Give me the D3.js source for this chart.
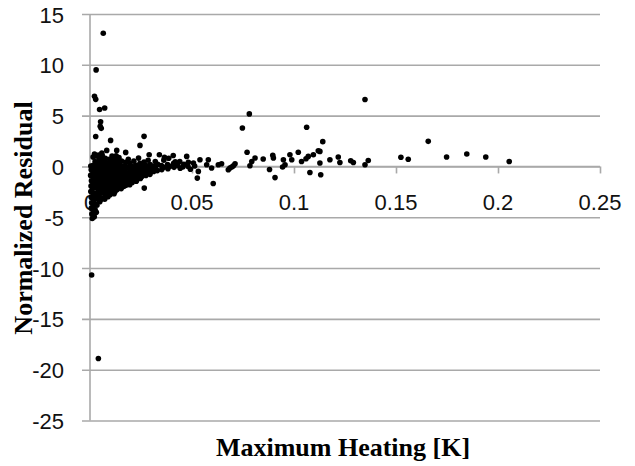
<!DOCTYPE html>
<html>
<head>
<meta charset="utf-8">
<script src="https://cdnjs.cloudflare.com/ajax/libs/d3/7.8.5/d3.min.js"></script>
<style>
  html, body { margin: 0; padding: 0; background: #fff; }
  svg { display: block; }
</style>
</head>
<body>
<svg id="chart" width="635" height="466"></svg>
<script>
// ---- data ----
const xTicks = [0, 0.05, 0.1, 0.15, 0.2, 0.25];
const yTicks = [15, 10, 5, 0, -5, -10, -15, -20, -25];
const xTitle = "Maximum Heating [K]";
const yTitle = "Normalized Residual";

// dense wedge of points near zero heating [heating, residual]
const clusterPoints = [
  [0.0004,0.05],[0.0006,-0.32],[0.0003,-0.88],[0.0007,-1.42],[0.0005,-1.93],[0.0004,-2.47],[0.0006,-3.02],[0.0008,-3.58],[0.0006,-4.12],[0.0009,-4.68],[0.0011,-5.12],
  [0.0015,0.92],[0.0016,0.12],[0.0014,-0.51],[0.0017,-1.08],[0.0015,-1.71],[0.0013,-2.18],[0.0016,-2.79],[0.0018,-3.31],[0.0015,-3.92],[0.0017,-4.48],[0.0021,-4.95],
  [0.0025,0.48],[0.0026,-0.18],[0.0024,-0.81],[0.0027,-1.33],[0.0025,-1.98],[0.0023,-2.61],[0.0026,-3.12],[0.0028,-3.69],[0.0025,-4.27],
  [0.0035,1.02],[0.0036,0.31],[0.0034,-0.42],[0.0037,-0.98],[0.0035,-1.58],[0.0033,-2.12],[0.0036,-2.71],[0.0038,-3.22],[0.0034,-3.81],[0.0031,-4.52],
  [0.0045,0.62],[0.0046,0.02],[0.0044,-0.61],[0.0047,-1.19],[0.0045,-1.82],[0.0043,-2.38],[0.0046,-2.98],[0.0048,-3.48],
  [0.0055,0.88],[0.0056,0.21],[0.0054,-0.33],[0.0057,-0.91],[0.0055,-1.52],[0.0053,-2.08],[0.0056,-2.62],[0.0052,-3.28],
  [0.0065,0.51],[0.0066,-0.12],[0.0064,-0.68],[0.0067,-1.22],[0.0065,-1.88],[0.0063,-2.48],[0.0066,-3.08],
  [0.0075,0.79],[0.0076,0.11],[0.0074,-0.52],[0.0077,-1.01],[0.0075,-1.62],[0.0073,-2.21],[0.0076,-2.88],[0.0072,-3.22],
  [0.0085,0.28],[0.0086,-0.29],[0.0084,-0.82],[0.0087,-1.38],[0.0085,-1.98],[0.0083,-2.58],[0.0088,-2.98],
  [0.0095,0.71],[0.0096,0.02],[0.0094,-0.58],[0.0097,-1.12],[0.0095,-1.72],[0.0093,-2.31],[0.0098,-2.79],
  [0.0105,0.42],[0.0106,-0.22],[0.0104,-0.88],[0.0107,-1.41],[0.0105,-2.02],[0.0103,-2.58],
  [0.0115,0.78],[0.0116,0.08],[0.0114,-0.49],[0.0117,-1.08],[0.0115,-1.69],[0.0113,-2.28],[0.0118,-2.68],
  [0.0125,0.31],[0.0126,-0.31],[0.0124,-0.79],[0.0127,-1.38],[0.0125,-1.91],[0.0123,-2.47],
  [0.0135,0.58],[0.0136,0.01],[0.0134,-0.62],[0.0137,-1.18],[0.0135,-1.72],[0.0133,-2.27],
  [0.0145,0.22],[0.0146,-0.38],[0.0144,-0.92],[0.0147,-1.49],[0.0145,-2.08],
  [0.0155,0.52],[0.0156,-0.08],[0.0154,-0.71],[0.0157,-1.22],[0.0155,-1.78],[0.0153,-2.18],
  [0.0165,0.03],[0.0166,-0.49],[0.0164,-1.02],[0.0167,-1.58],[0.0165,-1.98],
  [0.0175,0.41],[0.0176,-0.19],[0.0174,-0.78],[0.0177,-1.31],[0.0175,-1.88],
  [0.0185,-0.09],[0.0186,-0.62],[0.0184,-1.11],[0.0187,-1.68],
  [0.0195,0.28],[0.0196,-0.31],[0.0194,-0.88],[0.0197,-1.38],[0.0195,-1.79],
  [0.0205,0.01],[0.0206,-0.49],[0.0204,-0.98],[0.0207,-1.57],
  [0.0215,0.52],[0.0216,-0.18],[0.0214,-0.71],[0.0217,-1.28],
  [0.0225,0.11],[0.0226,-0.41],[0.0224,-0.92],[0.0227,-1.46],
  [0.0235,-0.08],[0.0236,-0.61],[0.0234,-1.09],
  [0.0245,0.31],[0.0246,-0.28],[0.0244,-0.79],[0.0247,-1.18],
  [0.0255,0.02],[0.0256,-0.49],[0.0254,-0.98],
  [0.0265,0.42],[0.0266,-0.21],[0.0264,-0.68],
  [0.0275,0.09],[0.0276,-0.38],[0.0274,-0.88],
  [0.0285,0.61],[0.0286,-0.11],[0.0284,-0.58],
  [0.0295,0.19],[0.0296,-0.29],[0.0294,-0.78],
  [0.0310,0.02],[0.0312,-0.49],[0.0320,0.48],[0.0322,-0.19],[0.0330,-0.41],[0.0332,0.21],
  [0.0350,0.09],[0.0352,-0.31],[0.0362,0.62],[0.0364,-0.08],[0.0380,0.19],[0.0382,-0.22],
  [0.0392,0.02],[0.0410,0.31],[0.0412,-0.09],[0.0430,0.11],[0.0440,0.48],[0.0442,-0.18],
  [0.0460,0.21],[0.0480,0.02],[0.0482,0.41],[0.0492,-0.28],
  [0.0022,1.22],[0.0058,1.31],[0.0108,1.02],[0.0142,0.88],[0.0188,0.71],[0.0238,0.82],[0.0128,1.05],[0.0042,1.12]
];

// sparse points: the spike near zero and the points further right
const spikePoints = [
  [0.0065,13.1],[0.0030,9.5],[0.0022,6.9],[0.0028,6.6],[0.0047,5.6],[0.0072,5.75],
  [0.0052,4.4],[0.0050,3.95],[0.0055,3.75],[0.0028,2.95],[0.0101,2.56],[0.0082,1.58],
  [0.0131,1.58],[0.0175,1.38],[0.0028,1.06],[0.0060,1.06],[0.0245,2.07],[0.0265,2.96],
  [0.0266,-2.13],[0.0008,-10.68],[0.0041,-18.9]
];

const midPoints = [
  [0.0290,1.15],[0.0340,1.15],[0.0408,1.08],[0.0474,0.99],[0.0526,-1.15],[0.0604,-1.68],
  [0.0507,0.34],[0.0539,0.66],[0.0531,-0.49],[0.0572,0.17],[0.0580,0.66],[0.0596,-0.16],
  [0.0629,0.17],[0.0645,0.27],[0.0678,-0.33],[0.0686,-0.16],[0.0703,0.07],[0.0513,0.05],
  [0.0455,-0.05],[0.0418,0.45],[0.0386,0.80],[0.0365,0.90]
];

const tailPoints = [
  [0.0695,-0.06],[0.0711,0.27],[0.0747,3.78],[0.0770,1.40],[0.0781,5.17],[0.0784,0.07],
  [0.0793,0.49],[0.0809,0.83],[0.0849,0.73],[0.0880,-0.30],[0.0896,1.10],[0.0899,0.83],
  [0.0907,-1.10],[0.0944,-0.06],[0.0948,0.66],[0.0956,0.17],[0.0980,1.15],[0.0989,0.66],
  [0.1021,1.40],[0.1037,0.49],[0.1059,0.76],[0.1062,3.85],[0.1070,0.99],[0.1078,-0.59],
  [0.1095,1.15],[0.1119,1.55],[0.1127,1.48],[0.1127,0.34],[0.1131,-0.82],[0.1141,2.44],
  [0.1176,0.66],[0.1217,0.93],[0.1225,0.39],[0.1278,0.56],[0.1291,0.39],[0.1348,6.58],
  [0.1348,0.17],[0.1364,0.59],[0.1524,0.91],[0.1560,0.70],[0.1658,2.47],[0.1748,0.93],
  [0.1847,1.22],[0.1940,0.93],[0.2055,0.49]
];

const allPoints = clusterPoints.concat(spikePoints, midPoints, tailPoints);

// ---- layout ----
const svg = d3.select("#chart");
const plot = { left: 90, right: 600, top: 14, bottom: 420.5 };
const x = d3.scaleLinear().domain([0, 0.25]).range([plot.left, plot.right]);
const y = d3.scaleLinear().domain([-25, 15]).range([plot.bottom, plot.top]);
const gridColor = "#a9a9a9";
const labelFont = "'Liberation Sans', Arial, sans-serif";
const titleFont = "'Liberation Serif', 'Times New Roman', serif";

// horizontal gridlines + y tick marks (extend left of axis)
svg.append("g")
  .attr("transform", `translate(${plot.left},0)`)
  .call(d3.axisLeft(y).tickValues(yTicks).tickSize(8).tickFormat(""))
  .call(g => g.select(".domain").remove())
  .call(g => g.selectAll(".tick line").attr("stroke", gridColor).attr("stroke-width", 1.6)
      .attr("x1", -8).attr("x2", plot.right - plot.left));

// y axis line
svg.append("line")
  .attr("x1", plot.left).attr("x2", plot.left)
  .attr("y1", y(15)).attr("y2", y(-25))
  .attr("stroke", gridColor).attr("stroke-width", 1.6);

// y tick labels
svg.append("g").selectAll("text").data(yTicks).join("text")
  .attr("x", 64).attr("y", d => y(d) + 8.5)
  .attr("text-anchor", "end")
  .attr("font-family", labelFont).attr("font-size", 22).attr("fill", "#111")
  .text(d => d);

// x axis at y = 0 with downward ticks
svg.append("g")
  .attr("transform", `translate(0,${y(0)})`)
  .call(d3.axisBottom(x).tickValues(xTicks).tickSize(7).tickFormat(""))
  .call(g => g.select(".domain").attr("stroke", gridColor).attr("stroke-width", 1.6)
      .attr("d", `M${plot.left},0H${plot.right}`))
  .call(g => g.selectAll(".tick line").attr("stroke", gridColor).attr("stroke-width", 1.6))
  .call(g => g.selectAll(".tick").filter(d => d === 0).remove());

// x tick labels
svg.append("g").selectAll("text").data(xTicks).join("text")
  .attr("x", d => x(d)).attr("y", y(0) + 44)
  .attr("text-anchor", "middle")
  .attr("font-family", labelFont).attr("font-size", 22).attr("fill", "#111")
  .text(d => String(d));

// axis titles
svg.append("text")
  .attr("x", 343).attr("y", 456)
  .attr("text-anchor", "middle")
  .attr("font-family", titleFont).attr("font-weight", "bold").attr("font-size", 26)
  .text(xTitle);

svg.append("text")
  .attr("transform", "translate(32,218) rotate(-90)")
  .attr("text-anchor", "middle")
  .attr("font-family", titleFont).attr("font-weight", "bold").attr("font-size", 26)
  .text(yTitle);

// points
svg.append("g").selectAll("circle").data(allPoints).join("circle")
  .attr("cx", d => x(d[0])).attr("cy", d => y(d[1]))
  .attr("r", 2.8).attr("fill", "#000");
</script>
</body>
</html>
